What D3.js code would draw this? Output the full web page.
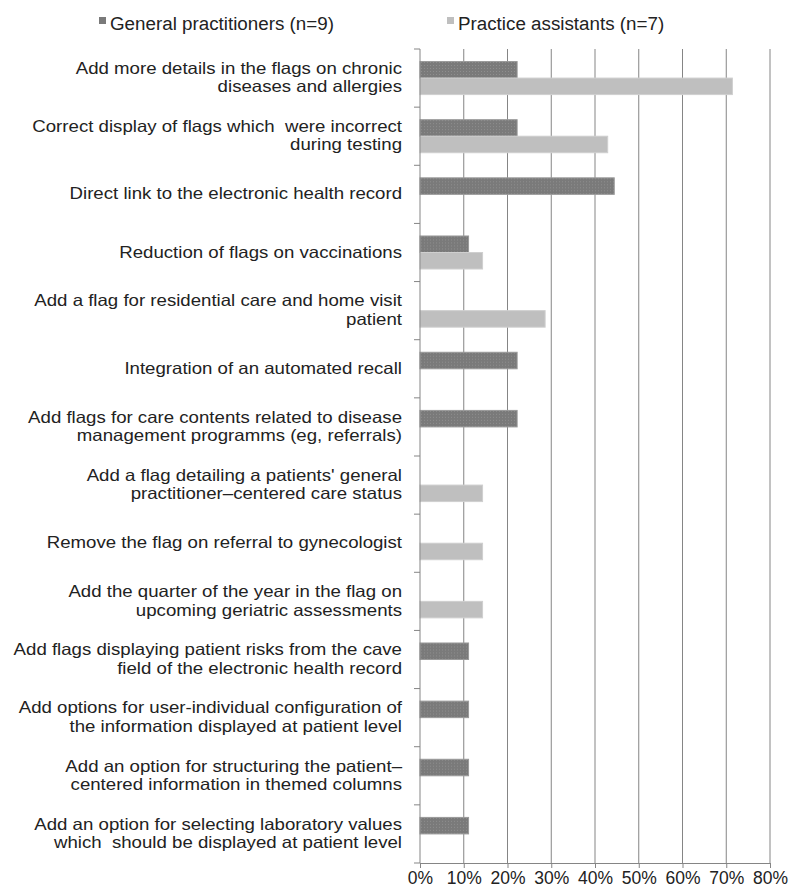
<!DOCTYPE html>
<html>
<head>
<meta charset="utf-8">
<script src="https://cdn.jsdelivr.net/npm/d3@7"></script>
<style>
  body { margin: 0; background: #fff; }
  svg { font-family: "Liberation Sans", Arial, sans-serif; }
  text { white-space: pre; fill: #222; }
</style>
</head>
<body>
<svg width="790" height="896"></svg>
<script>
// categories, one entry per row; "|" marks a line break in the label
var categories = [
    "Add more details in the flags on chronic|diseases and allergies",
    "Correct display of flags which  were incorrect|during testing",
    "Direct link to the electronic health record",
    "Reduction of flags on vaccinations",
    "Add a flag for residential care and home visit|patient",
    "Integration of an automated recall",
    "Add flags for care contents related to disease|management programms (eg, referrals)",
    "Add a flag detailing a patients' general|practitioner\u2013centered care status",
    "Remove the flag on referral to gynecologist",
    "Add the quarter of the year in the flag on|upcoming geriatric assessments",
    "Add flags displaying patient risks from the cave|field of the electronic health record",
    "Add options for user-individual configuration of|the information displayed at patient level",
    "Add an option for structuring the patient\u2013|centered information in themed columns",
    "Add an option for selecting laboratory values|which  should be displayed at patient level"
];

var seriesNames = ["General practitioners (n=9)", "Practice assistants (n=7)"];

// percent of respondents
var gpValues = [22.2, 22.2, 44.4, 11.1, 0, 22.2, 22.2, 0, 0, 0, 11.1, 11.1, 11.1, 11.1];
var paValues = [71.4, 42.9, 0, 14.3, 28.6, 0, 0, 14.3, 14.3, 14.3, 0, 0, 0, 0];

var xTicks = [0, 10, 20, 30, 40, 50, 60, 70, 80];

var svg = d3.select("svg");

var x = d3.scaleLinear().domain([0, 80]).range([420, 770]);
var y = d3.scaleBand().domain(d3.range(categories.length)).range([49, 863]);
var ySub = d3.scaleBand().domain([0, 1]).range([0, y.bandwidth()]).paddingOuter(0.76);

// texture for the dark series
var defs = svg.append("defs");
var pat = defs.append("pattern")
    .attr("id", "darkTex")
    .attr("width", 3).attr("height", 3)
    .attr("patternUnits", "userSpaceOnUse");
pat.append("rect").attr("width", 3).attr("height", 3).attr("fill", "#7a7a7a");
pat.append("rect").attr("x", 1).attr("y", 1).attr("width", 1).attr("height", 1).attr("fill", "#8e8e8e");

var fills = ["url(#darkTex)", "#bfbfbf"];
var strokes = ["#9a9a9a", "#cfcfcf"];

// vertical gridlines
svg.append("g")
    .selectAll("line")
    .data(xTicks.slice(1))
    .enter().append("line")
    .attr("x1", d => x(d)).attr("x2", d => x(d))
    .attr("y1", 49).attr("y2", 863)
    .attr("stroke", "#858585")
    .attr("stroke-width", 1);

// bars
var rows = categories.map((c, i) => ({ i: i, vals: [gpValues[i], paValues[i]] }));
var rowG = svg.append("g")
    .selectAll("g")
    .data(rows)
    .enter().append("g")
    .attr("transform", d => `translate(0, ${y(d.i)})`);

rowG.selectAll("rect")
    .data(d => d.vals.map((v, s) => ({ v: v, s: s })).filter(e => e.v > 0))
    .enter().append("rect")
    .attr("x", x(0))
    .attr("y", d => ySub(d.s))
    .attr("width", d => x(d.v) - x(0))
    .attr("height", ySub.bandwidth())
    .attr("fill", d => fills[d.s])
    .attr("stroke", d => strokes[d.s])
    .attr("stroke-width", 1);

// x axis
var xAxis = svg.append("g")
    .attr("transform", "translate(0,863)")
    .call(d3.axisBottom(x).tickValues(xTicks).tickFormat(d => d + "%").tickSize(5).tickSizeOuter(0));
xAxis.select(".domain").attr("stroke", "#858585");
xAxis.selectAll(".tick line").attr("stroke", "#858585");
xAxis.selectAll(".tick text")
    .attr("y", 9)
    .attr("dy", "0.71em")
    .style("font-size", "17.5px")
    .attr("font-family", null)
    .attr("fill", "#222");

// y axis line + boundary ticks
svg.append("line")
    .attr("x1", x(0)).attr("x2", x(0))
    .attr("y1", 49).attr("y2", 863)
    .attr("stroke", "#858585");
svg.append("g")
    .selectAll("line")
    .data(d3.range(categories.length + 1))
    .enter().append("line")
    .attr("x1", x(0) - 6).attr("x2", x(0))
    .attr("y1", d => 49 + d * y.step()).attr("y2", d => 49 + d * y.step())
    .attr("stroke", "#858585");

// category labels (slightly widened glyphs, like the original export)
var labels = svg.append("g")
    .selectAll("text")
    .data(categories)
    .enter().append("text")
    .attr("text-anchor", "end")
    .style("font-size", "16.5px")
    .attr("transform", (d, i) => `translate(402, ${y(i) + y.bandwidth() / 2}) scale(1.13, 1)`);

labels.each(function (d) {
    var lines = d.split("|");
    var t = d3.select(this);
    lines.forEach((ln, k) => {
        t.append("tspan")
            .attr("x", 0)
            .attr("y", (k - (lines.length - 1) / 2) * 18.5 + 5)
            .text(ln);
    });
});

// legend
var legendX = [99, 447];
var legend = svg.append("g");
seriesNames.forEach((name, i) => {
    var row = legend.append("g").attr("transform", `translate(${legendX[i]}, 0)`);
    row.append("rect")
        .attr("x", 0).attr("y", 17)
        .attr("width", 7).attr("height", 7)
        .attr("fill", i === 0 ? "#7a7a7a" : "#bfbfbf");
    row.append("text")
        .attr("x", 11).attr("y", 30)
        .style("font-size", "18.8px")
        .text(name);
});
</script>
</body>
</html>
